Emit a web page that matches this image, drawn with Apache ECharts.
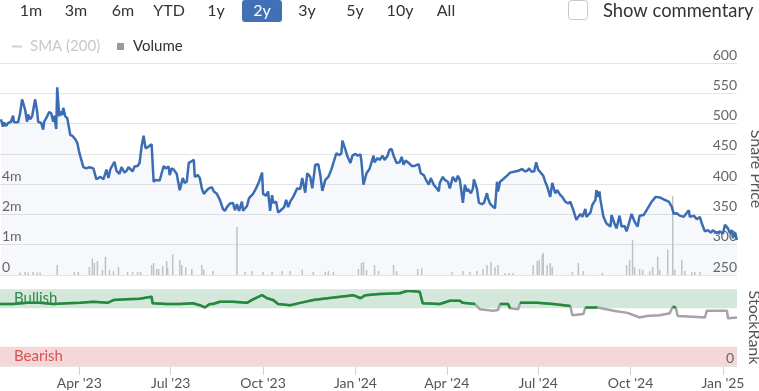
<!DOCTYPE html>
<html><head><meta charset="utf-8">
<script src="https://cdn.jsdelivr.net/npm/echarts@6/dist/echarts.min.js"></script>
<style>html,body{margin:0;padding:0;background:#fff}#c{width:759px;height:391px}</style>
</head><body><div id="c"></div>
<script>
// Day offsets are days since 12 Jan 2023
const baseDate = '2023-01-12';
const axisStartDay = 0, axisEndDay = 734;

const priceDay = [1,3,4,6,8,11,13,14,18,20,22,25,27,28,30,32,35,37,38,41,43,44,47,49,51,53,54,56,57,59,60,62,63,65,67,70,72,75,77,79,80,83,86,89,93,96,100,103,106,108,110,114,116,119,121,124,126,128,129,132,134,137,139,141,143,145,148,
149,151,153,155,159,161,163,165,168,169,171,173,176,179,182,184,186,188,190,193,194,197,199,201,203,206,208,211,213,216,219,222,224,226,229,232,234,236,238,241,242,246,248,252,255,258,261,262,265,267,269,271,272,275,277,281,283,285,287,289,292,296,299,
301,304,306,309,311,314,317,319,321,324,327,330,335,338,340,341,344,346,349,351,354,356,359,360,362,365,368,370,372,373,376,378,381,383,386,388,390,392,395,398,400,402,404,407,410,413,417,419,422,424,427,429,432,435,437,438,441,443,446,448,
451,454,456,458,461,463,465,466,469,471,472,475,477,480,482,485,486,488,491,493,495,496,498,501,505,508,513,516,520,521,523,525,527,529,532,534,536,539,541,543,545,548,550,553,555,558,560,563,566,568,571,574,576,578,580,583,584,588,590,593,594,596,597,
598,601,604,608,609,612,614,617,619,622,624,626,629,632,635,637,641,644,649,653,657,661,666,669,671,674,677,681,686,687,691,694,697,699,702,705,708,710,714,717,720,722,725,727,729,730,732,734];
const price = [507,495,502,496,501,503,513,502,502,517,540,523,503,515,507,512,540,520,503,501,490,503,512,519,517,503,513,491,560,512,520,514,526,512,509,481,480,474,468,452,450,428,426,428,426,408,412,408,424,410,425,437,422,417,428,419,422,428,425,421,429,430,435,462,480,459,462,
465,466,404,407,406,418,430,426,429,415,426,424,417,390,410,402,404,435,437,440,412,415,410,393,384,390,393,395,388,384,374,359,356,362,368,369,357,367,356,371,356,364,377,384,393,404,419,384,381,388,356,382,369,371,353,359,362,374,362,371,379,393,392,
410,386,418,412,393,432,433,415,389,407,412,424,451,448,451,472,457,446,435,447,450,447,449,437,399,418,425,436,447,436,443,440,447,440,447,457,458,447,435,436,445,432,439,435,430,430,433,418,415,408,399,410,399,393,388,402,412,407,404,393,
412,404,414,407,369,399,388,392,385,393,408,392,369,367,369,385,377,368,363,360,404,388,404,408,414,419,421,422,425,428,421,422,426,421,421,436,424,418,414,404,396,379,402,385,390,382,379,371,368,371,357,341,346,351,346,359,346,353,366,374,390,379,388,
374,346,335,330,349,335,327,348,330,331,322,333,351,338,330,348,349,357,371,379,378,375,371,363,351,352,348,346,357,346,348,342,346,335,322,324,320,324,319,322,318,333,327,319,324,311,320,308];

// Volume (millions)
const volumeDay = [20,25,28,33,37,40,57,74,78,89,92,94,97,102,105,109,113,118,127,132,137,140,151,153,156,158,162,166,167,172,179,181,185,191,201,203,212,236,244,
251,262,271,281,289,301,312,324,327,332,357,360,362,365,373,377,392,395,416,420,450,461,468,475,481,485,489,493,496,
503,507,511,531,535,537,540,541,545,548,550,570,576,581,600,624,627,630,632,637,640,647,650,655,657,665,670,672,679,682,689,692,697];
const volumeM = [0.08,0.1,0.08,0.1,0.08,0.08,0.33,0.1,0.1,0.26,0.53,0.4,0.46,0.17,0.6,0.17,0.13,0.26,0.1,0.1,0.1,0.1,0.33,0.4,0.2,0.2,0.3,0.46,0.23,0.69,0.5,0.33,0.26,0.2,0.33,0.17,0.13,1.5,0.1,
0.13,0.1,0.1,0.13,0.13,0.17,0.1,0.1,0.13,0.1,0.2,0.4,0.43,0.17,0.33,0.13,0.33,0.13,0.2,0.23,0.1,0.13,0.1,0.13,0.2,0.33,0.43,0.26,0.33,
0.07,0.07,0.07,0.33,0.46,0.5,0.66,0.73,0.33,0.4,0.26,0.1,0.4,0.13,0.07,0.33,0.5,1.12,0.26,0.2,0.17,0.13,0.26,0.6,0.17,0.83,3.05,0.17,0.5,0.13,0.1,0.1,0.1];
const volumeTickLabels = ['0','1m','2m','4m'];

// StockRank
const rankDay = [0,13,27,40,53,67,80,93,107,113,126,139,151,152,166,179,192,199,204,209,212,219,232,246,252,261,266,272,277,289,299,312,326,339,352,359,364,378,398,406,418,421,438,448,458,461,473,478,491,496,498,506,508,516,518,535,551,568,570,581,583,595,611,625,637,644,657,667,670,673,675,690,702,704,724,725,734];
const rank = [80.5,80.5,82,82,80.5,81.4,82,83.5,82,85.7,86.6,87.4,90,81.4,80.5,80.5,81.4,79,76,80.5,80.5,83.5,83.5,82,86.6,92,88,85.7,80.5,79,82,85.7,88,90,92,88,92,93.5,94.4,97.8,96.5,81.4,80.5,84.8,84.8,82,80.5,73.6,71.8,72.7,80.5,80.5,75,73.6,82,82,80.5,78,66,67.5,76,76,71.8,69,63,65,66,68.4,77,76,65,64,63,71.8,71.8,62,63];
const bullishFrom = 75, bearishTo = 25;

const quarterTicks = ['2023-04-01','2023-07-01','2023-10-01','2024-01-01','2024-04-01','2024-07-01','2024-10-01','2025-01-01'];
const monthNames = ['Jan','Feb','Mar','Apr','May','Jun','Jul','Aug','Sep','Oct','Nov','Dec'];
const rangeButtons = ['1m','3m','6m','YTD','1y','2y','3y','5y','10y','All'];
const activeRange = '2y';

function parseDate(s){ const p = s.split('-').map(Number); return new Date(p[0], p[1]-1, p[2]); }
const base = parseDate(baseDate);
function dayToTime(d){ return new Date(base.getFullYear(), base.getMonth(), base.getDate() + d).getTime(); }
function volUnits(m){ return m <= 1 ? m : 1 + Math.log2(m); }

const priceData = priceDay.map((d,i)=>[dayToTime(d), price[i]]);
const volData = volumeDay.map((d,i)=>[dayToTime(d), volUnits(volumeM[i])]);
const rankData = rankDay.map((d,i)=>[dayToTime(d), rank[i]]);
// green overlay: keep points that are bullish with a bullish neighbour
const rankGreen = rankDay.map((d,i)=>{
  const ok = rank[i] >= bullishFrom && ((i>0 && rank[i-1] >= bullishFrom) || (i<rank.length-1 && rank[i+1] >= bullishFrom));
  return [dayToTime(d), ok ? rank[i] : null];
});
const qTimes = quarterTicks.map(s=>parseDate(s).getTime());

const FONT = 'Lato';
const chart = echarts.init(document.getElementById('c'), null, {renderer:'canvas'});

const btnX = [31,76,123,169,216,262,307,355,400,446];
const graphics = [];
rangeButtons.forEach((b,i)=>{
  if (b === activeRange) {
    graphics.push({type:'rect', shape:{x:btnX[i]-20, y:0, width:40, height:22, r:3}, style:{fill:'#4170b6'}});
  }
  graphics.push({type:'text', x:btnX[i], y:11, style:{text:b, fill: b===activeRange?'#fff':'#333', font:'16px '+FONT, textAlign:'center', textVerticalAlign:'middle'}});
});
graphics.push({type:'rect', shape:{x:568.5, y:0.5, width:19, height:19, r:3}, style:{fill:'#fff', stroke:'#c8c8c8', lineWidth:1}});
graphics.push({type:'text', x:603, y:11, style:{text:'Show commentary', fill:'#333', font:'18.4px '+FONT, textVerticalAlign:'middle'}});
graphics.push({type:'line', shape:{x1:12, y1:46.5, x2:22, y2:46.5}, style:{stroke:'#cfcfcf', lineWidth:2}});
graphics.push({type:'text', x:30, y:46, style:{text:'SMA (200)', fill:'#c8c8c8', font:'15px '+FONT, textVerticalAlign:'middle'}});
graphics.push({type:'rect', shape:{x:117, y:43, width:7, height:7}, style:{fill:'#9a9a9a'}});
graphics.push({type:'text', x:133, y:46, style:{text:'Volume', fill:'#333', font:'15px '+FONT, textVerticalAlign:'middle'}});

const tMin = dayToTime(axisStartDay), tMax = dayToTime(axisEndDay);

chart.setOption({
  animation:false,
  textStyle:{fontFamily:FONT},
  graphic: graphics,
  grid:[
    {left:0, right:22, top:63, height:212, outerBoundsMode:'none'},
    {left:0, right:22, top:289, height:77, outerBoundsMode:'none'}
  ],
  xAxis:[
    {type:'value', gridIndex:0, min:tMin, max:tMax, show:false, splitLine:{show:false}},
    {type:'value', gridIndex:1, min:tMin, max:tMax,
      axisLine:{show:true, lineStyle:{color:'#e3e3e3'}},
      axisTick:{show:true, customValues:qTimes, length:9, lineStyle:{color:'#d0d0d0'}},
      axisLabel:{customValues:qTimes, color:'#555', fontSize:14, margin:10, fontFamily:FONT,
        formatter:(v)=>{const d=new Date(v); return monthNames[d.getMonth()]+" '"+String(d.getFullYear()).slice(2);}},
      splitLine:{show:false}}
  ],
  yAxis:[
    {type:'value', gridIndex:0, position:'right', min:250, max:600, interval:50,
      name:'Share Price', nameLocation:'middle', nameRotate:-90, nameGap:8,
      nameTextStyle:{color:'#555', fontSize:16, fontFamily:FONT},
      axisLine:{show:false}, axisTick:{show:false},
      axisLabel:{inside:true, margin:0, color:'#666', fontSize:14, verticalAlign:'bottom', padding:[0,0,1,0], fontFamily:FONT},
      splitLine:{lineStyle:{color:'#e4e4e4'}}},
    {type:'value', gridIndex:0, position:'left', min:0, max:7, interval:1,
      axisLine:{show:false}, axisTick:{show:false},
      axisLabel:{inside:true, margin:2, color:'#666', fontSize:14, verticalAlign:'bottom', padding:[0,0,1,0], fontFamily:FONT,
        formatter:(v)=> volumeTickLabels[v] !== undefined ? volumeTickLabels[v] : ''},
      splitLine:{show:false}},
    {type:'value', gridIndex:1, position:'right', min:0, max:100, interval:100, z:5,
      name:'StockRank', nameLocation:'middle', nameRotate:-90, nameGap:8,
      nameTextStyle:{color:'#555', fontSize:16, fontFamily:FONT},
      axisLine:{show:false}, axisTick:{show:false},
      axisLabel:{inside:true, margin:3, color:'#666', fontSize:14, verticalAlign:'bottom', padding:[0,0,1,0], fontFamily:FONT,
        formatter:(v)=> v===0 ? '0' : ''},
      splitLine:{lineStyle:{color:'#e6e6e6'}}}
  ],
  series:[
    {type:'bar', xAxisIndex:0, yAxisIndex:1, data:volData, barWidth:1.5, itemStyle:{color:'#c6c6c6'}, silent:true},
    {type:'line', xAxisIndex:0, yAxisIndex:0, data:priceData, showSymbol:false, symbol:'none',
      lineStyle:{color:'#3b6db5', width:2.5}, itemStyle:{color:'#3b6db5'},
      areaStyle:{color:'rgba(70,100,180,0.06)', origin:'start'}},
    {type:'line', xAxisIndex:1, yAxisIndex:2, data:rankData, showSymbol:false, symbol:'none',
      lineStyle:{width:2.5, color:'#a4a4a4'}, itemStyle:{color:'#a4a4a4'},
      markArea:{silent:true,
        data:[
          [{yAxis:bullishFrom, itemStyle:{color:'#d3e8da'}, label:{show:true, position:'insideLeft', distance:14, formatter:'Bullish', color:'#2e8b4a', fontSize:15, fontFamily:FONT}},{yAxis:100}],
          [{yAxis:0, itemStyle:{color:'#f5d6d9'}, label:{show:true, position:'insideLeft', distance:14, formatter:'Bearish', color:'#d9534f', fontSize:15, fontFamily:FONT}},{yAxis:bearishTo}]
        ]}},
    {type:'line', xAxisIndex:1, yAxisIndex:2, data:rankGreen, showSymbol:false, symbol:'none', connectNulls:false,
      lineStyle:{width:2.5, color:'#218a3b'}, itemStyle:{color:'#218a3b'}}
  ]
});
</script></body></html>
